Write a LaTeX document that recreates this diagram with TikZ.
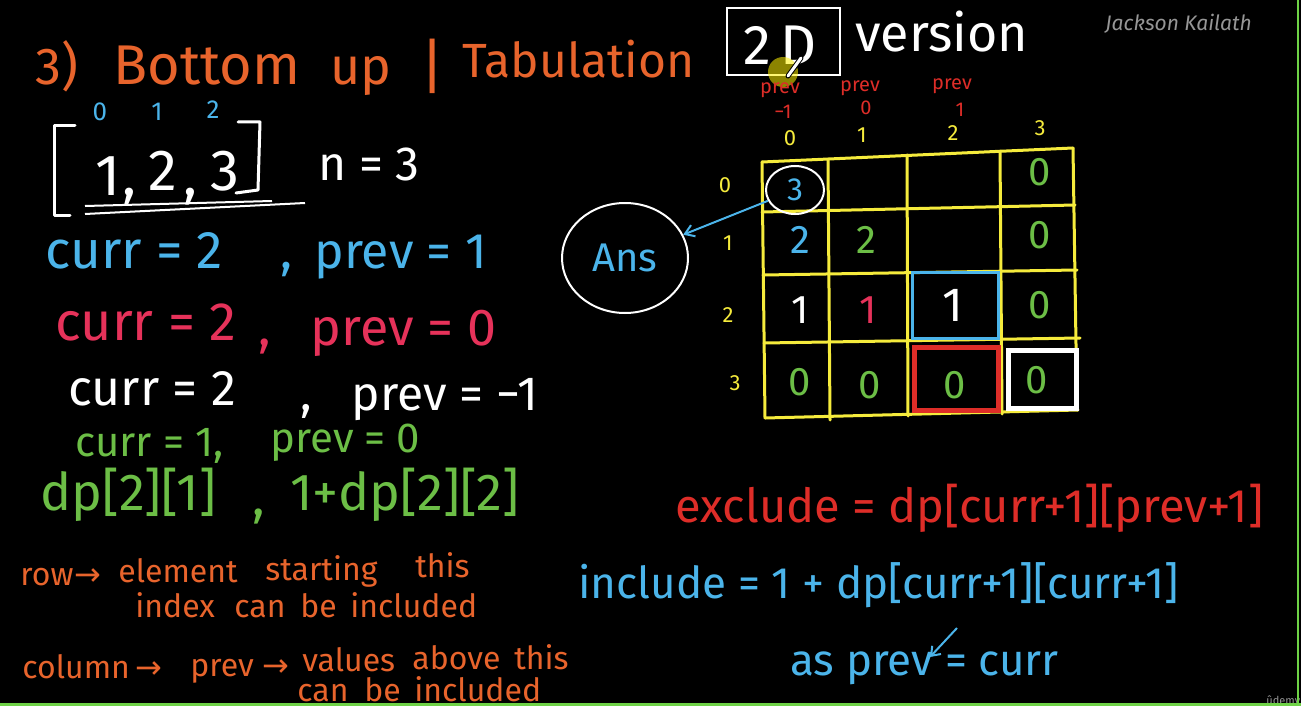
\documentclass[tikz,border=0pt]{standalone}
\usepackage{fontspec}
\setmainfont{Fira Sans}
\newfontfamily\arrowfont{DejaVu Sans}
\usetikzlibrary{shapes.geometric,arrows.meta}
\definecolor{chalkorange}{RGB}{232,100,44}
\definecolor{chalkblue}{RGB}{75,180,234}
\definecolor{chalkpink}{RGB}{230,50,90}
\definecolor{chalkred}{RGB}{222,45,40}
\definecolor{chalkgreen}{RGB}{108,190,70}
\definecolor{chalkyellow}{RGB}{245,235,60}
\definecolor{signgray}{RGB}{150,150,150}
\definecolor{framegreen}{RGB}{110,210,70}
\newcommand{\fsz}[1]{\fontsize{#1}{#1}\selectfont}

\begin{document}
\begin{tikzpicture}[
      x=1pt,y=-1pt,
      thick,
      ecrit/.style={
        inner sep=0pt,
        anchor=base west
      },
      note/.style={
        inner sep=0pt,
        anchor=base west,
        text=chalkorange,
        font=\fsz{32}
      },
      chiffre/.style={
        inner sep=0pt,
        font=\fsz{40}
      },
      indice/.style={
        inner sep=0pt,
        text=chalkyellow,
        font=\fsz{22}
      },
      entete/.style={
        inner sep=0pt,
        text=chalkred,
        font=\fsz{20}
      },
      trait/.style={
        line width=3pt,
        line cap=round,
        line join=round
      }
    ]
      \fill[black] (0,0) rectangle (1301,706);
      \useasboundingbox (0,0) rectangle (1301,706);

      \node (t1) at (35,85) [ecrit,text=chalkorange,font=\fsz{52}] {3)};
      \node (t2) at (113,85) [ecrit,text=chalkorange,font=\fsz{56}] {Bottom};
      \node (t3) at (330,85) [ecrit,text=chalkorange,font=\fsz{52}] {up};
      \node (t4) at (420,88) [ecrit,text=chalkorange,font=\fsz{60}] {|};
      \node (t5) at (462,78) [ecrit,text=chalkorange,font=\fsz{48}] {Tabulation};

      \node (sig) at (1105,31) [ecrit,text=signgray,font=\fsz{21}\itshape] {Jackson Kailath};

      \draw[white,line width=2.5pt] (727,8) rectangle (840,75);
      \node (dd) at (743,65) [ecrit,text=white,font=\fsz{56}] {2\,D};
      \node (ver) at (855,52) [ecrit,text=white,font=\fsz{52}] {version};

      \fill[yellow,opacity=0.55] (783,72) circle (15);
      \draw[black,line width=5pt,line cap=round] (801,58) -- (788,76);
      \draw[white,line width=3pt,line cap=round] (801,58) -- (788,76);

      \node (i0) at (100,112) [inner sep=0pt,text=chalkblue,font=\fsz{26}] {0};
      \node (i1) at (157,112) [inner sep=0pt,text=chalkblue,font=\fsz{26}] {1};
      \node (i2) at (213,110) [inner sep=0pt,text=chalkblue,font=\fsz{26}] {2};
      \draw[white,trait] (75,126) -- (54,126) -- (54,215) -- (70,215);
      \draw[white,trait] (238,122) -- (260,122) -- (258,190) -- (236,193);
      \node (a1) at (95,195) [ecrit,text=white,font=\fsz{58}] {1};
      \node (c1) at (122,195) [ecrit,text=white,font=\fsz{58}] {,};
      \node (a2) at (148,190) [ecrit,text=white,font=\fsz{58}] {2};
      \node (c2) at (183,195) [ecrit,text=white,font=\fsz{58}] {,};
      \node (a3) at (210,190) [ecrit,text=white,font=\fsz{58}] {3};
      \draw[white,line width=2pt] (85,206) -- (272,201);
      \draw[white,line width=2pt] (85,214) -- (305,203);
      \node (n) at (318,180) [ecrit,text=white,font=\fsz{48}] {n = 3};

      \node (b1) at (45,268) [ecrit,text=chalkblue,font=\fsz{53}] {curr = 2};
      \node (b2) at (280,268) [ecrit,text=chalkblue,font=\fsz{50}] {,\hspace{22pt}prev = 1};
      \node (r1) at (55,340) [ecrit,text=chalkpink,font=\fsz{54}] {curr = 2};
      \node (r2) at (258,345) [ecrit,text=chalkpink,font=\fsz{52}] {,\hspace{40pt}prev = 0};
      \node (w1) at (68,405) [ecrit,text=white,font=\fsz{50}] {curr = 2};
      \node (w2) at (300,410) [ecrit,text=white,font=\fsz{48}] {,\hspace{40pt}prev = \textminus1};
      \node (g1) at (75,456) [ecrit,text=chalkgreen,font=\fsz{42}] {curr = 1,};
      \node (g1b) at (270,452) [ecrit,text=chalkgreen,font=\fsz{42}] {prev = 0};
      \node (g2) at (40,510) [ecrit,text=chalkgreen,font=\fsz{52}] {dp[2][1]};
      \node (g3) at (252,515) [ecrit,text=chalkgreen,font=\fsz{52}] {,};
      \node (g4) at (290,510) [ecrit,text=chalkgreen,font=\fsz{52}] {1+dp[2][2]};

      \node (o1) at (20,585) [note] {row};
      \node (o2) at (74,585) [note] {\arrowfont →};
      \node (o3) at (118,582) [note] {element};
      \node (o4) at (265,580) [note] {starting};
      \node (o5) at (415,577) [note] {this};
      \node (o6) at (135,617) [note] {index};
      \node (o7) at (234,617) [note] {can};
      \node (o8) at (300,617) [note] {be};
      \node (o9) at (350,617) [note] {included};
      \node (o10) at (22,678) [note] {column};
      \node (o11) at (135,678) [note] {\arrowfont →};
      \node (o12) at (190,676) [note] {prev};
      \node (o13) at (262,676) [note] {\arrowfont →};
      \node (o14) at (302,671) [note] {values};
      \node (o15) at (412,669) [note] {above};
      \node (o16) at (514,669) [note] {this};
      \node (o17) at (297,701) [note] {can};
      \node (o18) at (364,701) [note] {be};
      \node (o19) at (414,701) [note] {included};

      \node (ans) at (625,258) [ellipse,draw=white,line width=2pt,minimum width=126pt,minimum height=110pt,text=chalkblue,font=\fsz{40}] {Ans};

      \draw[chalkyellow,trait] (762,162) -- (1073,148);
      \draw[chalkyellow,trait] (762,212) -- (1075,205);
      \draw[chalkyellow,trait] (763,275) -- (1077,270);
      \draw[chalkyellow,trait] (764,343) -- (1080,338);
      \draw[chalkyellow,trait] (765,418) -- (1078,410);
      \draw[chalkyellow,trait] (762,162) -- (765,418);
      \draw[chalkyellow,trait] (828,159) -- (830,420);
      \draw[chalkyellow,trait] (907,155) -- (908,416);
      \draw[chalkyellow,trait] (1000,151) -- (1002,414);
      \draw[chalkyellow,trait] (1073,148) -- (1077,410);

      \node (x0) at (790,138) [indice] {0};
      \node (x1) at (862,135) [indice] {1};
      \node (x2) at (953,133) [indice] {2};
      \node (x3) at (1040,128) [indice] {3};
      \node (y0) at (725,185) [indice] {0};
      \node (y1) at (728,243) [indice] {1};
      \node (y2) at (728,315) [indice] {2};
      \node (y3) at (735,383) [indice] {3};

      \node (p0) at (780,90) [entete] {prev};
      \node (q0) at (783,112) [entete] {\textminus1};
      \node (p1) at (860,88) [entete] {prev};
      \node (q1) at (866,108) [entete] {0};
      \node (p2) at (952,86) [entete] {prev};
      \node (q2) at (960,110) [entete] {1};

      \node (three) at (795,190) [ellipse,draw=white,line width=2pt,minimum width=58pt,minimum height=48pt,text=chalkblue,font=\fsz{32},inner sep=0pt] {3};
      \node (v03) at (1040,172) [chiffre,text=chalkgreen] {0};
      \node (v10) at (800,240) [chiffre,text=chalkblue] {2};
      \node (v11) at (866,240) [chiffre,text=chalkgreen] {2};
      \node (v13) at (1040,235) [chiffre,text=chalkgreen] {0};
      \node (v20) at (800,310) [chiffre,text=white] {1};
      \node (v21) at (868,310) [chiffre,text=chalkpink] {1};
      \node (v22) at (953,305) [chiffre,text=white,font=\fsz{48}] {1};
      \node (v23) at (1040,305) [chiffre,text=chalkgreen] {0};
      \node (v30) at (800,382) [chiffre,text=chalkgreen] {0};
      \node (v31) at (870,385) [chiffre,text=chalkgreen] {0};
      \node (v32) at (955,385) [chiffre,text=chalkgreen] {0};
      \node (v33) at (1037,380) [chiffre,text=chalkgreen] {0};

      \draw[chalkblue,line width=3pt] (912,272) rectangle (998,338);
      \draw[chalkred,line width=5pt] (914,347) rectangle (998,410);
      \draw[white,line width=5pt] (1008,350) rectangle (1076,408);

      \draw[chalkblue,line width=2pt,-{Straight Barb[length=9pt,width=12pt]}] (three) -- (ans);

      \node (exc) at (675,522) [ecrit,text=chalkred,font=\fsz{47}] {exclude = dp[curr+1][prev+1]};
      \node (inc) at (578,598) [ecrit,text=chalkblue,font=\fsz{44}] {include = 1 + dp[curr+1][curr+1]};
      \node (asp) at (790,675) [ecrit,text=chalkblue,font=\fsz{44}] {as prev = curr};
      \coordinate (tail) at (957,628);
      \coordinate (tip) at (930,657);
      \draw[chalkblue,line width=2pt,-{Straight Barb[length=8pt,width=12pt]}] (tail) -- (tip);

      \node (udemy) at (1266,704) [ecrit,text=signgray,font=\fsz{11}] {ûdemy};
      \draw[framegreen,line width=3pt] (0,704.5) -- (1301,704.5);
      \draw[framegreen,line width=2pt] (1298,0) -- (1298,706);
    \end{tikzpicture}
\end{document}
